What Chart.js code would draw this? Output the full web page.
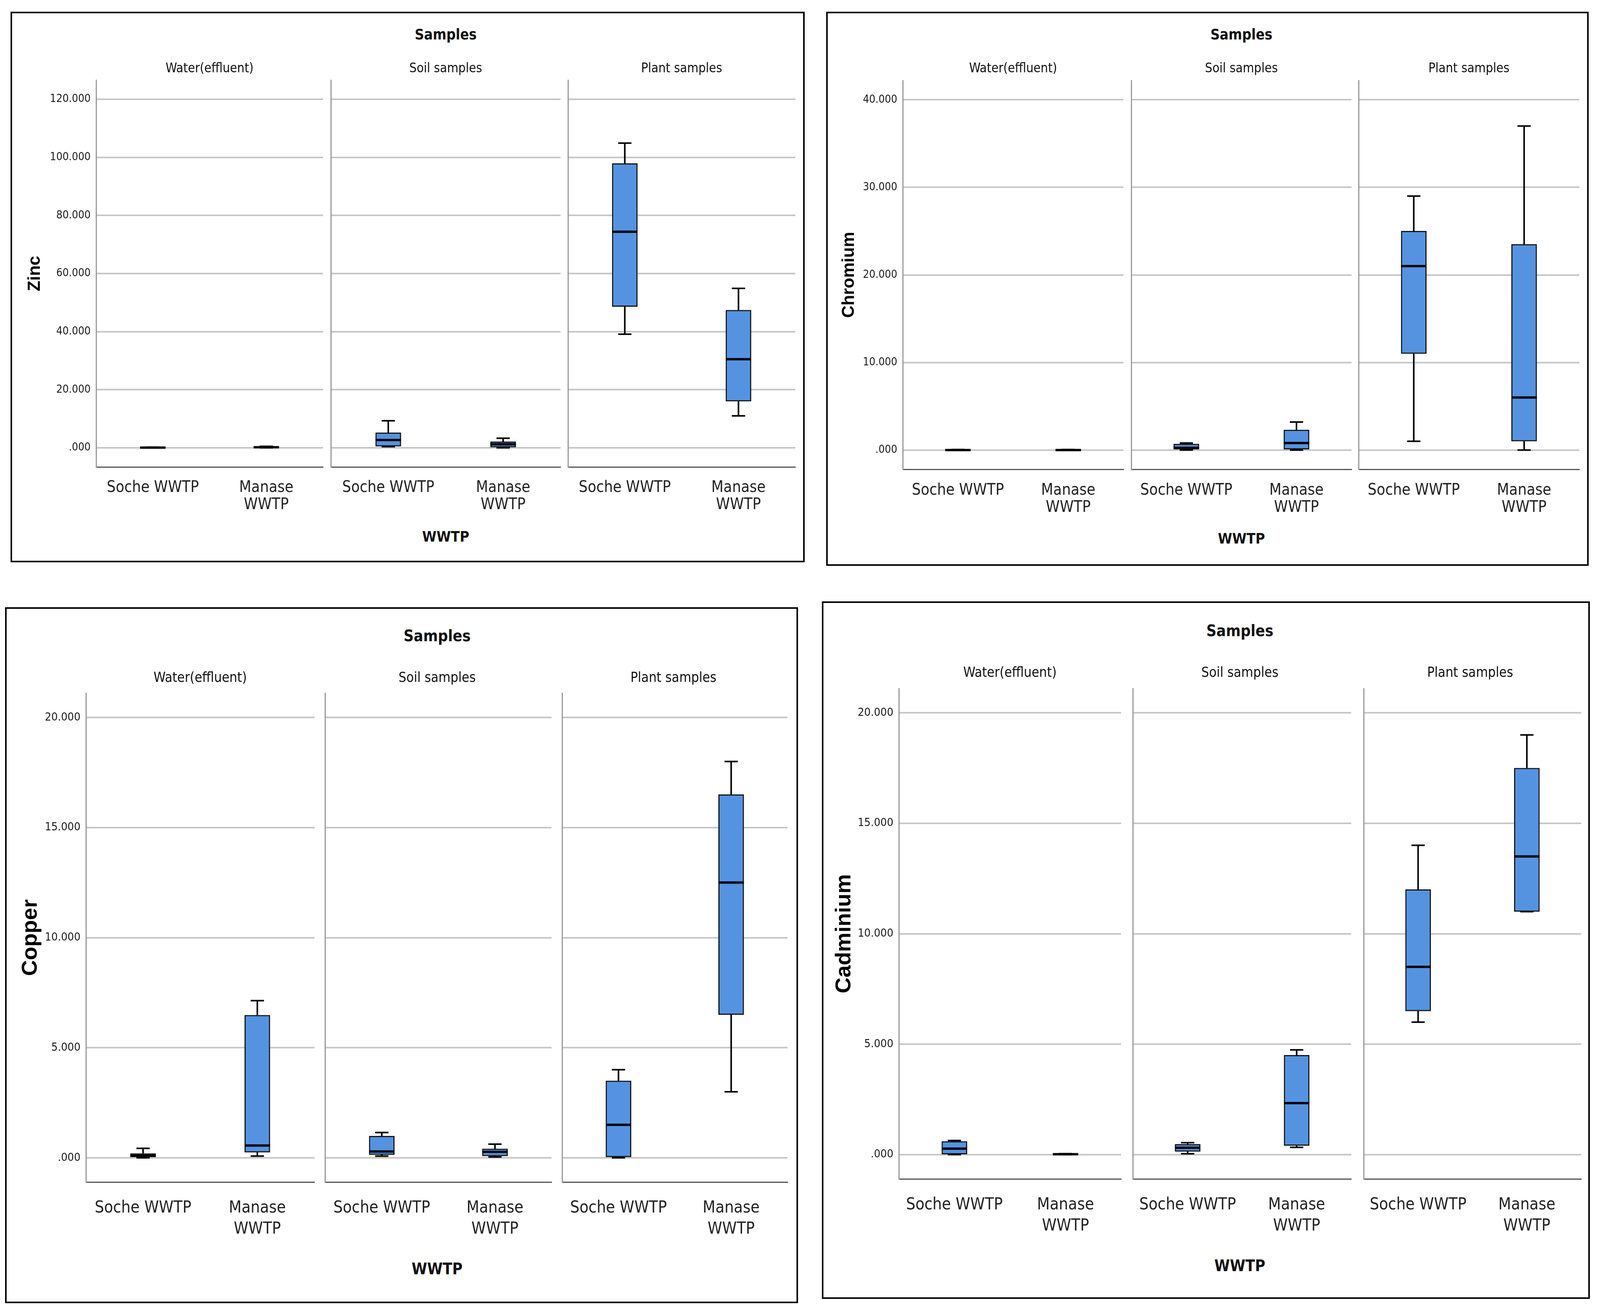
<!DOCTYPE html>
<html>
<head>
<meta charset="utf-8">
<script src="https://cdn.jsdelivr.net/npm/chart.js@4.4.1/dist/chart.umd.min.js"></script>
<style>
  html, body { margin: 0; background: #fff; overflow: hidden; }
  body { position: relative; width: 100vw; height: 100vh; }
  .panel { position: absolute; border: 4px solid #000; box-sizing: border-box; }
  .lbl { position: absolute; transform: translate(-50%, -50%); white-space: nowrap; color: #111;
         font-family: 'Liberation Sans Narrow', 'Arial Narrow', 'DejaVu Sans Condensed', sans-serif; }
  canvas { position: absolute; }
</style>
</head>
<body>
<script>
// -------------------- DATA --------------------
const facetNames = ["Water(effluent)", "Soil samples", "Plant samples"];
const wwtpLabels = ["Soche WWTP", ["Manase", "WWTP"]];
// order: water soche, water manase, soil soche, soil manase, plant soche, plant manase
const zincMin = [0, 0, 0.4, 0, 39.1, 11.0];
const zincQ1  = [0, 0, 0.5, 0.2, 48.6, 16.0];
const zincMed = [0.05, 0.2, 2.7, 1.2, 74.4, 30.5];
const zincQ3  = [0.15, 0.4, 5.2, 2.1, 97.9, 47.4];
const zincMax = [0.2, 0.5, 9.3, 3.3, 104.9, 54.9];

const chromMin = [0, 0, 0, 0, 1.0, 0];
const chromQ1  = [0, 0, 0, 0, 11.0, 1.0];
const chromMed = [0, 0, 0.25, 0.8, 21.0, 6.0];
const chromQ3  = [0.05, 0.05, 0.7, 2.3, 25.0, 23.5];
const chromMax = [0.05, 0.05, 0.8, 3.2, 29.0, 37.0];

const copperMin = [0, 0.08, 0.08, 0.04, 0, 3.0];
const copperQ1  = [0, 0.25, 0.14, 0.08, 0, 6.5];
const copperMed = [0.1, 0.56, 0.29, 0.27, 1.5, 12.5];
const copperQ3  = [0.2, 6.48, 0.99, 0.41, 3.5, 16.5];
const copperMax = [0.43, 7.14, 1.15, 0.62, 4.0, 18.0];

const cadMin = [0, 0, 0.04, 0.33, 6.0, 11.0];
const cadQ1  = [0.02, 0, 0.14, 0.41, 6.5, 11.0];
const cadMed = [0.27, 0.02, 0.31, 2.33, 8.5, 13.5];
const cadQ3  = [0.6, 0.04, 0.47, 4.5, 12.0, 17.5];
const cadMax = [0.64, 0.04, 0.54, 4.74, 14.0, 19.0];

const axisTops  = [120, 40, 20, 20];
const axisSteps = [20, 10, 5, 5];

// -------------------- LAYOUT --------------------
const NARROW = "'Liberation Sans Narrow', 'Arial Narrow', 'DejaVu Sans Condensed', sans-serif";
const WIDE = "'Liberation Sans', Arial, sans-serif";

// layout is measured on a 4152 px wide page; the window may be narrower, so x is scaled to fit
const SX = Math.min(1, window.innerWidth / 4152);
const X = v => Math.round(v * SX);

const panels = [
  { title: "Zinc", min: zincMin, q1: zincQ1, med: zincMed, q3: zincQ3, max: zincMax,
    box: [27, 30, 2061, 1409], yTitleX: 91, plotTop: 205, plotBottom: 1195,
    facetL: [249, 859, 1474], facetR: [838, 1455, 2064], samplesY: 88, facetY: 173, wwtpY: 1373,
    tickSize: 28, catSize: 40, catLH: 44, catPad: 24, facetSize: 33, headSize: 37, yTitleSize: 44 },
  { title: "Chromium", min: chromMin, q1: chromQ1, med: chromMed, q3: chromQ3, max: chromMax,
    box: [2144, 30, 1979, 1418], yTitleX: 2204, plotTop: 206, plotBottom: 1201,
    facetL: [2343, 2936, 3526], facetR: [2915, 3507, 4098], samplesY: 88, facetY: 173, wwtpY: 1378,
    tickSize: 28, catSize: 40, catLH: 44, catPad: 25, facetSize: 33, headSize: 37, yTitleSize: 44 },
  { title: "Copper", min: copperMin, q1: copperQ1, med: copperMed, q3: copperQ3, max: copperMax,
    box: [13, 1554, 2058, 1781], yTitleX: 80, plotTop: 1774, plotBottom: 3025,
    facetL: [223, 837, 1452], facetR: [816, 1431, 2044], samplesY: 1627, facetY: 1733, wwtpY: 3247,
    tickSize: 29, catSize: 42, catLH: 54, catPad: 32, facetSize: 35, headSize: 40, yTitleSize: 56 },
  { title: "Cadminium", min: cadMin, q1: cadQ1, med: cadMed, q3: cadQ3, max: cadMax,
    box: [2133, 1539, 1993, 1785], yTitleX: 2192, plotTop: 1762, plotBottom: 3017,
    facetL: [2332, 2929, 3527], facetR: [2909, 3506, 4103], samplesY: 1614, facetY: 1720, wwtpY: 3239,
    tickSize: 29, catSize: 42, catLH: 54, catPad: 32, facetSize: 35, headSize: 40, yTitleSize: 56 }
];

// -------------------- WHISKERS + MEDIAN --------------------
const whiskerPlugin = {
  id: "whiskers",
  afterDatasetsDraw(chart) {
    const ds = chart.data.datasets[0];
    const st = ds.stats;
    const y = chart.scales.y;
    const ctx = chart.ctx;
    const meta = chart.getDatasetMeta(0);
    ctx.save();
    ctx.strokeStyle = "#000";
    meta.data.forEach((bar, i) => {
      const x = bar.x, w = bar.width;
      const pMin = y.getPixelForValue(st.min[i]);
      const pQ1 = y.getPixelForValue(ds.data[i][0]);
      const pQ3 = y.getPixelForValue(ds.data[i][1]);
      const pMax = y.getPixelForValue(st.max[i]);
      const pMed = y.getPixelForValue(st.med[i]);
      ctx.lineWidth = 4;
      ctx.beginPath();
      ctx.moveTo(x, pMax); ctx.lineTo(x, pQ3);
      ctx.moveTo(x, pQ1); ctx.lineTo(x, pMin);
      ctx.stroke();
      ctx.beginPath();
      ctx.moveTo(x - 17, pMax); ctx.lineTo(x + 17, pMax);
      ctx.moveTo(x - 17, pMin); ctx.lineTo(x + 17, pMin);
      ctx.stroke();
      ctx.lineWidth = 6;
      ctx.beginPath();
      ctx.moveTo(x - w / 2, pMed); ctx.lineTo(x + w / 2, pMed);
      ctx.stroke();
    });
    ctx.restore();
  }
};

function addLabel(text, x, y, size, bold) {
  const d = document.createElement("div");
  d.className = "lbl";
  d.textContent = text;
  d.style.left = x + "px";
  d.style.top = y + "px";
  d.style.fontSize = size + "px";
  d.style.fontWeight = bold ? "bold" : "normal";
  document.body.appendChild(d);
}

function makeFacet(p, pi, f) {
  const i0 = f * 2;
  const padTop = 44;
  const xh = 170;
  const fL = X(p.facetL[f]);
  const fR = X(p.facetR[f]);
  const left = f === 0 ? X(p.box[0]) + 6 : fL - 6;
  const right = fR + 4;
  const top = p.plotTop - padTop;
  const w = right - left;
  const h = p.plotBottom - top + xh;
  const top0 = axisTops[pi];

  const cv = document.createElement("canvas");
  cv.width = w; cv.height = h;
  cv.style.left = left + "px"; cv.style.top = top + "px";
  cv.style.width = w + "px"; cv.style.height = h + "px";
  document.body.appendChild(cv);

  const boxes = [0, 1].map(k => [p.q1[i0 + k], p.q3[i0 + k]]);

  new Chart(cv, {
    type: "bar",
    data: {
      labels: wwtpLabels,
      datasets: [{
        data: boxes,
        stats: { min: p.min.slice(i0, i0 + 2), med: p.med.slice(i0, i0 + 2), max: p.max.slice(i0, i0 + 2) },
        backgroundColor: "#5593e1",
        borderColor: "#151515",
        borderWidth: 3,
        borderSkipped: false,
        barThickness: 65
      }]
    },
    options: {
      responsive: false,
      animation: false,
      devicePixelRatio: 1,
      layout: { padding: { top: padTop, right: 4, left: 0, bottom: 0 } },
      plugins: { legend: { display: false }, tooltip: { enabled: false } },
      scales: {
        x: {
          grid: { display: false },
          border: { color: "#555", width: 3 },
          ticks: {
            color: "#222", padding: p.catPad, maxRotation: 0, autoSkip: false,
            font: { family: NARROW, size: p.catSize, lineHeight: p.catLH + "px" }
          },
          afterFit(s) { s.height = xh; }
        },
        y: {
          min: -0.055 * top0,
          max: top0 * 1.055,
          grid: { color: "#c6c6c6", lineWidth: 4, drawTicks: false },
          border: { color: "#999", width: 3 },
          ticks: {
            display: f === 0, stepSize: axisSteps[pi], includeBounds: false,
            color: "#1a1a1a", padding: 14,
            font: { family: NARROW, size: p.tickSize },
            callback: v => (v === 0 ? ".000" : v.toFixed(3))
          },
          title: {
            display: f === 0, text: p.title, color: "#000",
            font: { family: WIDE, size: p.yTitleSize, weight: "bold", lineHeight: 1.2 },
            padding: { top: X(p.yTitleX) - left - p.yTitleSize * 0.6, bottom: 0 }
          },
          afterFit(s) { s.width = fL - left; }
        }
      }
    },
    plugins: [whiskerPlugin]
  });

  addLabel(facetNames[f], (fL + fR) / 2, p.facetY, p.facetSize, false);
}

// -------------------- BUILD --------------------
panels.forEach((p, pi) => {
  const d = document.createElement("div");
  d.className = "panel";
  d.style.left = X(p.box[0]) + "px"; d.style.top = p.box[1] + "px";
  d.style.width = X(p.box[2]) + "px"; d.style.height = p.box[3] + "px";
  document.body.appendChild(d);

  const midX = (X(p.facetL[1]) + X(p.facetR[1])) / 2;
  addLabel("Samples", midX, p.samplesY, p.headSize, true);
  addLabel("WWTP", midX, p.wwtpY, p.headSize, true);
  for (let f = 0; f < 3; f++) makeFacet(p, pi, f);
});
</script>
</body>
</html>
